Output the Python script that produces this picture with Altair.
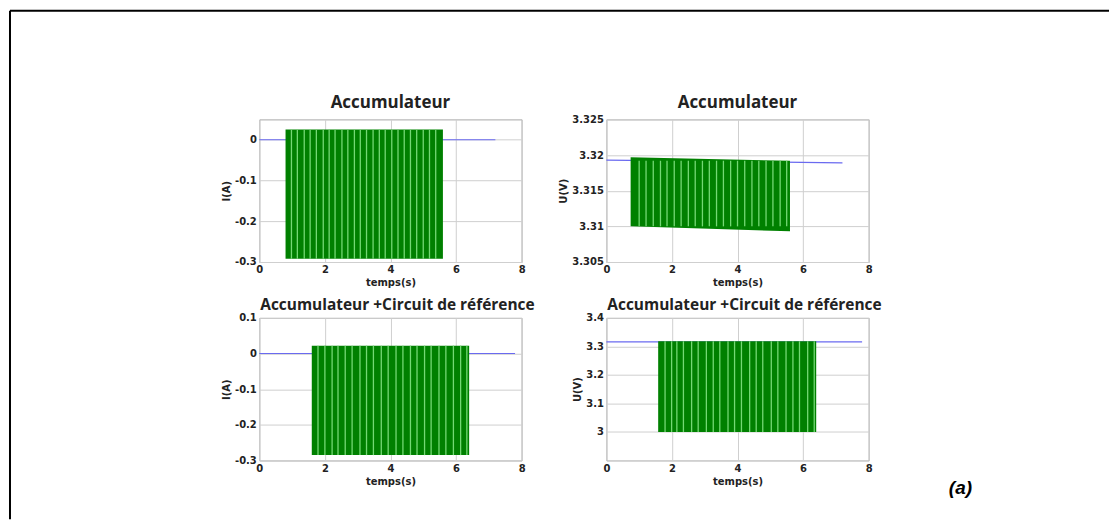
import altair as alt
import pandas as pd

# ---------------- data ----------------
titles = ["Accumulateur", "Accumulateur", "Accumulateur +Circuit de référence", "Accumulateur +Circuit de référence"]
ytitles = ["I(A)", "U(V)", "I(A)", "U(V)"]
xtitle = "temps(s)"
x_ticks = [0, 2, 4, 6, 8]

y_domains = [[-0.3, 0.05], [3.305, 3.325], [-0.3, 0.1], [2.9, 3.4]]
y_ticks = [[-0.3, -0.2, -0.1, 0], [3.305, 3.31, 3.315, 3.32, 3.325], [-0.3, -0.2, -0.1, 0, 0.1], [3.0, 3.1, 3.2, 3.3, 3.4]]

# blue (rest) signal: start/end times and values
blue_t = [[0, 7.2], [0, 7.2], [0, 7.8], [0, 7.8]]
blue_v = [[0.0, 0.0], [3.3193, 3.3189], [0.0, 0.0], [3.316, 3.316]]

# green (oscillating) block: start/end time, upper and lower envelope
green_t = [[0.8, 5.6], [0.74, 5.6], [1.6, 6.4], [1.58, 6.4]]
green_hi = [[0.025, 0.025], [3.3197, 3.3192], [0.022, 0.022], [3.318, 3.318]]
green_lo = [[-0.292, -0.292], [3.3100, 3.3093], [-0.285, -0.285], [3.0, 3.0]]

# light gaps seen inside the oscillation
gaps = [
    [0.98, 1.16, 1.37, 1.55, 1.74, 1.95, 2.13, 2.31, 2.52, 2.70, 2.90, 3.08, 3.27, 3.47, 3.66, 3.84, 4.04, 4.23, 4.42, 4.61, 4.80, 5.00, 5.19, 5.38],
    [1.0, 1.21, 1.43, 1.65, 1.85, 2.07, 2.28, 2.50, 2.71, 2.93, 3.14, 3.36, 3.57, 3.79, 4.00, 4.22, 4.44, 4.65, 4.87, 5.08, 5.30, 5.50],
    [1.79, 2.0, 2.22, 2.40, 2.62, 2.83, 3.07, 3.27, 3.48, 3.72, 3.93, 4.17, 4.38, 4.61, 4.81, 5.04, 5.24, 5.48, 5.69, 5.92, 6.14, 6.33],
    [1.79, 1.99, 2.15, 2.35, 2.60, 2.80, 3.05, 3.26, 3.46, 3.71, 3.91, 4.12, 4.37, 4.57, 4.77, 5.03, 5.23, 5.48, 5.69, 5.89, 6.14, 6.34],
]
panel_label = "(a)"

# ---------------- styles ----------------
W, H = 263, 143
GREEN = "#008000"
GAP = "#74d874"
BLUE = "#6a6af0"
TICK_FONT = "DejaVu Sans"
TITLE_FONT = "Open Sans"


def one():
    return alt.Data(values=[{}])


def panel(i):
    xs = alt.Scale(domain=[0, 8], nice=False, zero=False)
    ys = alt.Scale(domain=y_domains[i], nice=False, zero=False)
    xaxis = alt.Axis(values=x_ticks, title=xtitle, grid=True, ticks=False, domain=False,
                     labelFlush=False, labelOverlap=False, labelFont=TICK_FONT, labelFontSize=10,
                     labelFontWeight="bold", labelColor="#222", labelPadding=3,
                     titleFont=TICK_FONT, titleFontSize=10, titleFontWeight="bold",
                     titleColor="#222", titlePadding=3, gridColor="#cfcfcf",
                     labelExpr="format(datum.value, '~g')")
    yaxis = alt.Axis(values=y_ticks[i], title=ytitles[i], grid=True, ticks=False, domain=False,
                     labelOverlap=False, labelFont=TICK_FONT, labelFontSize=10, labelFontWeight="bold",
                     labelColor="#222", labelPadding=3, titleFont=TICK_FONT, titleFontSize=10,
                     titleFontWeight="bold", titleColor="#222", titlePadding=3, gridColor="#cfcfcf",
                     labelExpr="replace(format(datum.value, '~g'), '\u2212', '-')")

    bdf = pd.DataFrame({"t": blue_t[i], "v": blue_v[i]})
    gdf = pd.DataFrame({"t": green_t[i], "hi": green_hi[i], "lo": green_lo[i]})
    lo = max(green_lo[i])
    hi = min(green_hi[i])
    pdf = pd.DataFrame({"t": gaps[i], "lo": [lo] * len(gaps[i]), "hi": [hi] * len(gaps[i])})

    X = lambda f: alt.X(f, scale=xs, axis=xaxis, title=xtitle)
    Y = lambda f: alt.Y(f, scale=ys, axis=yaxis, title=ytitles[i])

    blue = alt.Chart(bdf).mark_line(color=BLUE, strokeWidth=1.2).encode(x=X("t:Q"), y=Y("v:Q"))
    green = alt.Chart(gdf).mark_area(color=GREEN, opacity=1).encode(x=X("t:Q"), y=Y("hi:Q"), y2="lo:Q")
    gap = alt.Chart(pdf).mark_rule(color=GAP, strokeWidth=1.3).encode(x=X("t:Q"), y=Y("lo:Q"), y2="hi:Q")

    top_row = i < 2
    ttl = alt.Chart(one()).mark_text(
        text=titles[i], font=TITLE_FONT, fontSize=17 if top_row else 15.5, fontWeight="bold",
        color="#222", align="center", baseline="alphabetic").encode(
        x=alt.value(W / 2 + (0 if top_row else 7)), y=alt.value(-11 if top_row else -8))

    layers = [blue, green, gap, ttl]
    if i == 0:
        frame_top = alt.Chart(one()).mark_rule(color="black", strokeWidth=2).encode(
            x=alt.value(-250), x2=alt.value(852), y=alt.value(-109))
        frame_left = alt.Chart(one()).mark_rule(color="black", strokeWidth=2).encode(
            x=alt.value(-250), y=alt.value(-109), y2=alt.value(401))
        layers += [frame_top, frame_left]
    if i == 3:
        lab = alt.Chart(one()).mark_text(
            text=panel_label, font="Liberation Sans", fontSize=19, fontWeight="bold",
            fontStyle="italic", align="center", baseline="middle", color="black").encode(
            x=alt.value(355), y=alt.value(171))
        layers.append(lab)

    return alt.layer(*layers).properties(width=W, height=H)


chart = alt.concat(panel(0), panel(1), panel(2), panel(3), columns=2,
                   spacing={"row": 56, "column": 85}, bounds="flush").resolve_scale(
    x="independent", y="independent").configure_view(
    stroke="#a8a8a8", strokeWidth=1).properties(padding=0, background="white")

chart.save("out.html", embed_options={"renderer": "svg", "actions": False})
